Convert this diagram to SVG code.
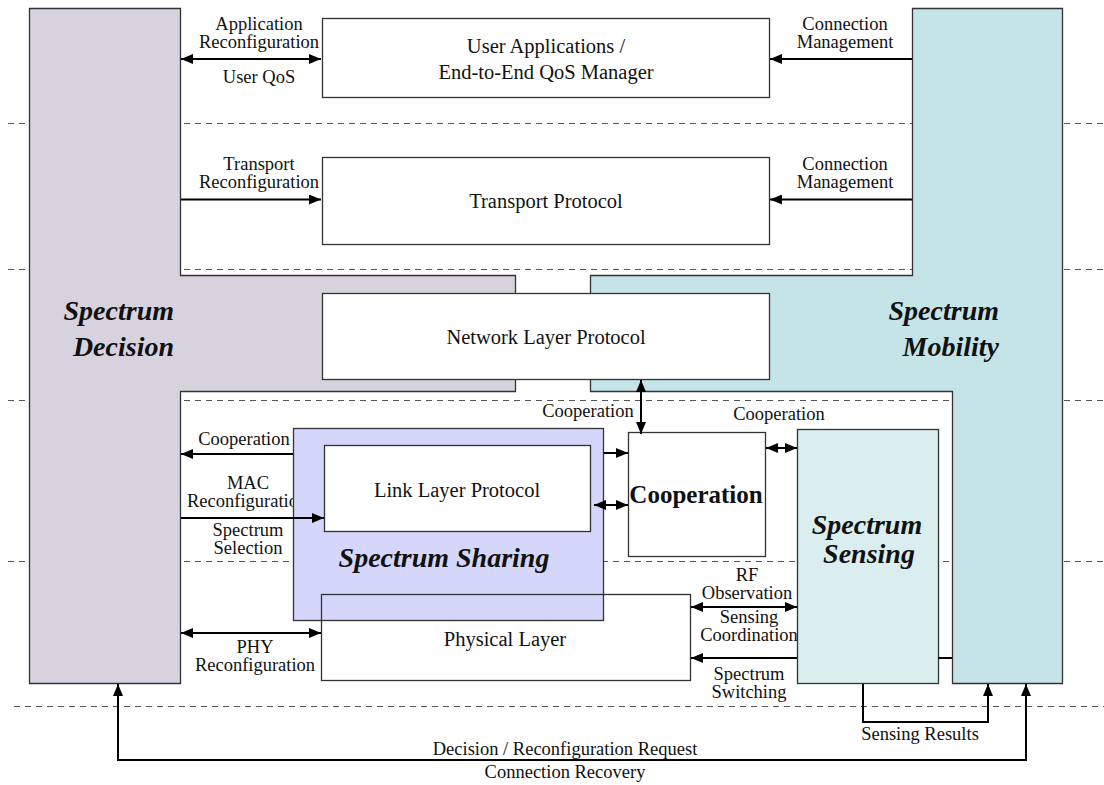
<svg xmlns="http://www.w3.org/2000/svg" width="1104" height="785" viewBox="0 0 1104 785">
<style>
.dash{stroke:#555;stroke-width:1.2;stroke-dasharray:6 5;fill:none}
.box{fill:#fff;stroke:#333;stroke-width:1.3}
.lbl{font-family:"Liberation Serif","Times New Roman",serif;font-size:18.5px;fill:#111;text-anchor:middle}
.btxt{font-family:"Liberation Serif","Times New Roman",serif;font-size:20.5px;fill:#111;text-anchor:middle}
.big{font-family:"Liberation Serif","Times New Roman",serif;font-size:28px;font-weight:bold;font-style:italic;fill:#111}
.con{fill:none;stroke:#000;stroke-width:2}
</style>
<defs>
<marker id="ah" viewBox="0 0 12 10" refX="12" refY="5" markerWidth="12" markerHeight="10" markerUnits="userSpaceOnUse" orient="auto-start-reverse"><path d="M0,0 L12,5 L0,10 z" fill="#000"/></marker>
</defs>
<rect width="1104" height="785" fill="#fff"/>
<g id="layer-lines">
<line class="dash" x1="8" y1="123.5" x2="1104" y2="123.5"/>
<line class="dash" x1="8" y1="269.5" x2="1104" y2="269.5"/>
<line class="dash" x1="8" y1="400.5" x2="1104" y2="400.5"/>
<line class="dash" x1="8" y1="561.5" x2="1104" y2="561.5"/>
<line class="dash" x1="14" y1="706.5" x2="1104" y2="706.5"/>
</g>
<g id="spectrum-decision">
<polygon points="29.5,8.5 180.5,8.5 180.5,275.5 515.5,275.5 515.5,391.5 180.5,391.5 180.5,683.5 29.5,683.5" fill="#d6d3de" stroke="#333" stroke-width="1.3"/>
<text class="big" x="174" y="320" text-anchor="end">Spectrum</text>
<text class="big" x="174" y="356" text-anchor="end">Decision</text>
</g>
<g id="spectrum-mobility">
<polygon points="912.5,8.5 1062.5,8.5 1062.5,683.5 952.5,683.5 952.5,391.5 590.5,391.5 590.5,275.5 912.5,275.5" fill="#c5e4e8" stroke="#333" stroke-width="1.3"/>
<text class="big" x="999" y="320" text-anchor="end">Spectrum</text>
<text class="big" x="999" y="356" text-anchor="end">Mobility</text>
</g>
<g id="labels">
<text class="lbl" x="259" y="30">Application</text>
<text class="lbl" x="259" y="48">Reconfiguration</text>
<text class="lbl" x="259" y="83">User QoS</text>
<text class="lbl" x="259" y="170">Transport</text>
<text class="lbl" x="259" y="188">Reconfiguration</text>
<text class="lbl" x="845" y="30">Connection</text>
<text class="lbl" x="845" y="48">Management</text>
<text class="lbl" x="845" y="170">Connection</text>
<text class="lbl" x="845" y="188">Management</text>
<text class="lbl" x="588" y="417">Cooperation</text>
<text class="lbl" x="779" y="420">Cooperation</text>
<text class="lbl" x="244" y="445">Cooperation</text>
<text class="lbl" x="248" y="489">MAC</text>
<text class="lbl" x="187" y="507" style="text-anchor:start">Reconfiguration</text>
<text class="lbl" x="248" y="536">Spectrum</text>
<text class="lbl" x="248" y="554">Selection</text>
<text class="lbl" x="255" y="653">PHY</text>
<text class="lbl" x="255" y="671">Reconfiguration</text>
<text class="lbl" x="747" y="581">RF</text>
<text class="lbl" x="747" y="599">Observation</text>
<text class="lbl" x="749" y="623">Sensing</text>
<text class="lbl" x="749" y="641">Coordination</text>
<text class="lbl" x="749" y="680">Spectrum</text>
<text class="lbl" x="749" y="698">Switching</text>
<text class="lbl" x="920" y="740">Sensing Results</text>
<text class="lbl" x="565" y="755">Decision / Reconfiguration Request</text>
<text class="lbl" x="565" y="778">Connection Recovery</text>
</g>
<g id="user-applications">
<rect class="box" x="322.5" y="18.5" width="447" height="79"/>
<text class="btxt" x="546" y="53">User Applications /</text>
<text class="btxt" x="546" y="79">End-to-End QoS Manager</text>
</g>
<g id="transport-protocol">
<rect class="box" x="322.5" y="157.5" width="447" height="87"/>
<text class="btxt" x="546" y="208">Transport Protocol</text>
</g>
<g id="network-layer-protocol">
<rect class="box" x="322.5" y="293.5" width="447" height="86"/>
<text class="btxt" x="546" y="344">Network Layer Protocol</text>
</g>
<g id="spectrum-sharing">
<rect x="293.5" y="428.5" width="310" height="192" fill="#d5d6fb" stroke="#333" stroke-width="1.3"/>
<text class="big" x="444" y="567" text-anchor="middle">Spectrum Sharing</text>
</g>
<g id="link-layer-protocol">
<rect class="box" x="324.5" y="445.5" width="266" height="86"/>
<text class="btxt" x="457" y="497">Link Layer Protocol</text>
</g>
<g id="physical-layer">
<rect x="321.5" y="594.5" width="369" height="86" fill="none" stroke="#333" stroke-width="1.3"/>
<text class="btxt" x="505" y="646">Physical Layer</text>
</g>
<g id="cooperation">
<rect class="box" x="628.5" y="432.5" width="137" height="124"/>
<text x="696" y="503" text-anchor="middle" style="font-family:'Liberation Serif','Times New Roman',serif;font-size:25px;font-weight:bold;fill:#111">Cooperation</text>
</g>
<g id="spectrum-sensing">
<rect x="797.5" y="429.5" width="141" height="254" fill="#daeef0" stroke="#333" stroke-width="1.3"/>
<text class="big" x="867" y="534" text-anchor="middle">Spectrum</text>
<text class="big" x="869" y="563" text-anchor="middle">Sensing</text>
</g>
<g id="connectors">
<path class="con" d="M181,59 H321" marker-start="url(#ah)" marker-end="url(#ah)"/>
<path class="con" d="M181,199.5 H321" marker-end="url(#ah)"/>
<path class="con" d="M912,59 H770" marker-end="url(#ah)"/>
<path class="con" d="M912,199.5 H770" marker-end="url(#ah)"/>
<path class="con" d="M641,380 V434" marker-start="url(#ah)" marker-end="url(#ah)"/>
<path class="con" d="M766,448 H797" marker-start="url(#ah)" marker-end="url(#ah)"/>
<path class="con" d="M604,453 H628" marker-end="url(#ah)"/>
<path class="con" d="M594,505 H628" marker-start="url(#ah)" marker-end="url(#ah)"/>
<path class="con" d="M293,454 H181" marker-end="url(#ah)"/>
<path class="con" d="M181,518 H324" marker-end="url(#ah)"/>
<path class="con" d="M181,633 H321" marker-start="url(#ah)" marker-end="url(#ah)"/>
<path class="con" d="M691,607 H797" marker-start="url(#ah)" marker-end="url(#ah)"/>
<path class="con" d="M952,658 H938 M797,658 H691" marker-end="url(#ah)"/>
<path class="con" d="M863,684 V722 H988 V684" marker-end="url(#ah)"/>
<path class="con" d="M1026,684 V760 H118 V684" marker-start="url(#ah)" marker-end="url(#ah)"/>
</g>
</svg>
